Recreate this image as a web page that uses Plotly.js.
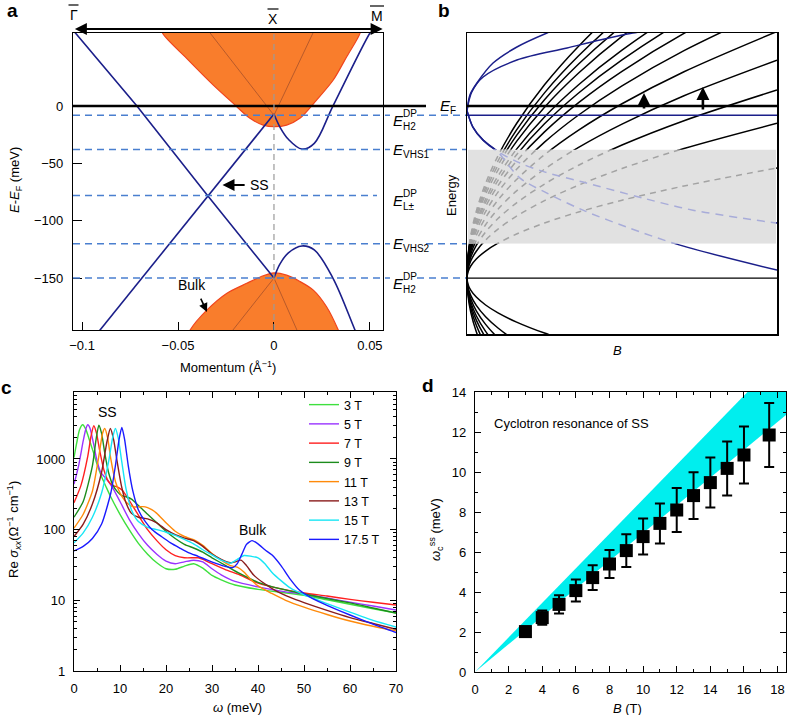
<!DOCTYPE html>
<html><head><meta charset="utf-8">
<script src="https://cdn.plot.ly/plotly-3.0.1.min.js"></script>
<style>html,body{margin:0;padding:0;background:#fff}#plot{width:787px;height:715px}</style>
</head><body><div id="plot"></div>
<script>
// ================= DATA =================
// ---- Panel a : band structure (k in 1/Å, E-EF in meV)
const ssFallK = [-0.1047, -0.0714, -0.0344, 0];
const ssFallE = [66.2, 0, -78.5, -150];
const ssHumpK = [0, 0.003, 0.0075, 0.0146, 0.021, 0.0307, 0.0422, 0.046];
const ssHumpE = [-150, -138, -128, -122, -125.5, -150, -195.3, -210];
const ssRiseK = [-0.092, -0.0344, 0];
const ssRiseE = [-198.2, -78.5, -7];
const ssDipK = [0, 0.003, 0.0075, 0.0146, 0.021, 0.0307, 0.05, 0.052];
const ssDipE = [-7, -18, -29, -37.5, -32.5, 0, 63.7, 68];
const cbK = [-0.0585, -0.058, -0.0455, -0.0316, -0.0212, -0.0125, -0.0056, 0, 0.0066, 0.0135, 0.0222, 0.0309, 0.0379, 0.0448, 0.0452];
const cbE = [70, 63.4, 41.6, 18.3, 2.3, -10.7, -16.6, -18, -16.6, -10.7, 5.2, 22.7, 43, 63.4, 70];
const vbK = [-0.0455, -0.0437, -0.035, -0.0247, -0.0142, -0.0056, 0, 0.0066, 0.0135, 0.0205, 0.0274, 0.0335, 0.035];
const vbE = [-202, -195.3, -178, -163.4, -154.6, -148, -145.5, -147.5, -153, -160.5, -175, -195.3, -202];
const cbInnerK = [-0.0362, 0, 0.0221];
const cbInnerE = [70, -8, 70];
const vbInnerK = [-0.0236, 0, 0.0132];
const vbInnerE = [-200, -150, -200];
const levelE = [-8, -38, -78, -120, -150];          // E_H2^DP, E_VHS1, E_L±^DP, E_VHS2, E_H2^DP
const levelMain = ['E', 'E', 'E', 'E', 'E'];
const levelSup = ['DP', '', 'DP', '', 'DP'];
const levelSub = ['H2', 'VHS1', 'L±', 'VHS2', 'H2'];
const symLabels = ['\u0393', 'X', 'M'];

// ---- Panel b : Landau-level schematic (B in arb. units 0..1, energy in meV)
const fanB = [0, 0.003, 0.012, 0.03, 0.06, 0.1, 0.16, 0.25, 0.36, 0.5, 0.7, 1.0];
const landauUp = [
  [-150,-144.7,-139.5,-133.4,-126.5,-119.6,-111.6,-102,-92.4,-82.1,-69.7,-54],
  [-150,-142.6,-135.2,-126.6,-116.9,-107.3,-96,-82.5,-69,-54.5,-37,-15],
  [-150,-141,-132,-121.6,-109.8,-98.1,-84.4,-68,-51.6,-34,-12.8,14],
  [-150,-139.6,-129.2,-117.1,-103.5,-89.9,-74,-55,-36,-15.7,9,40],
  [-150,-138.2,-126.5,-112.8,-97.3,-82,-64,-42.5,-21,2,29.9,65],
  [-150,-137,-124,-109,-92,-75.1,-55.2,-31.5,-7.8,17.6,48.3,87],
  [-150,-136,-122.1,-105.8,-87.5,-69.4,-48,-22.5,3,30.3,63.4,105],
  [-150,-135.3,-120.5,-103.4,-84.1,-64.9,-42.4,-15.5,11.4,40.2,75.1,119],
  [-150,-134.6,-119.2,-101.3,-81.2,-61.1,-37.6,-9.5,18.6,48.7,85.1,131],
  [-150,-133.7,-117.4,-98.4,-77,-55.8,-30.8,-1,28.8,60.7,99.3,148],
  [-150,-133,-115.9,-96.1,-73.8,-51.7,-25.6,5.5,36.6,69.9,110.2,161],
  [-150,-132.3,-114.6,-94.1,-70.9,-47.9,-20.8,11.5,43.8,78.4,120.3,173],
  [-150,-131.5,-113.1,-91.6,-67.5,-43.4,-15.2,18.5,52.2,88.3,132,187]
];
const landauDown = [
  [-150,-155.3,-160.5,-166.6,-173.5,-180.4,-188.4,-198,-207.6,-217.9,-230.3,-246],
  [-150,-157.6,-165.1,-173.9,-183.8,-193.6,-205.2,-219,-232.8,-247.6,-265.5,-288],
  [-150,-159,-168.1,-178.6,-190.4,-202.2,-216,-232.5,-249,-266.7,-288.1,-315],
  [-150,-160.4,-170.8,-182.9,-196.5,-210.1,-226,-245,-264,-284.3,-309,-340],
  [-150,-161.6,-173.2,-186.7,-201.9,-217,-234.8,-256,-277.2,-299.9,-327.4,-362],
  [-150,-163,-176.1,-191.2,-208.3,-225.3,-245.2,-269,-292.8,-318.3,-349.1,-388],
  [-150,-164.8,-179.6,-196.8,-216.1,-235.4,-258,-285,-312,-340.9,-375.9,-420]
];
const blueAB = [0, 0.01, 0.032, 0.084, 0.161, 0.258, 0.3];
const blueAE = [-4, 10, 20.1, 37.5, 51.5, 63.7, 68];
const blueBB = [0, 0.015, 0.052, 0.161, 0.323, 0.429, 0.535, 0.6];
const blueBE = [-4, 12, 25.3, 40.1, 50.6, 57.6, 63.7, 66];
const blueL1B = [0, 0.019, 0.052, 0.097, 0.171, 0.252, 0.374, 0.568, 0.729, 1];
const blueL1E = [-4, -18.3, -29.7, -39.3, -49.7, -57.6, -66.3, -80.3, -90.8, -102.1];
const blueL2B = [0, 0.019, 0.052, 0.097, 0.171, 0.258, 0.374, 0.516, 0.687, 1];
const blueL2E = [-4, -18.3, -29.7, -39.3, -62.8, -75.9, -90.8, -105.6, -121.3, -143.1];
const transB = [0.571, 0.761];
const transFrom = [-3.5, -4.4];
const transTo = [11.3, 16.6];

// ---- Panel c : Re sigma_xx vs omega
const fieldNames = ['3 T','5 T','7 T','9 T','11 T','13 T','15 T','17.5 T'];
const fieldColors = ['#3ee03e','#9a33ff','#ff1f1f','#1c8c1c','#ff8a0a','#8a1c1c','#17e6f5','#1a1aff'];
const w3 = [0,0.6,1.2,1.9,2.6,3.3,4.2,5,6,7,8,10,12,14,16,18,20,22,24,26,28,30,32,35,40,45,50,55,60,65,70];
const s3 = [1050,1700,2600,3050,2600,1900,1250,850,560,400,290,165,100,64,45,34,28,27.5,30.5,33,28.5,22.5,19.5,16.5,14.3,13,11.8,10.2,8.8,7.6,6.6];
const w5 = [0,1,2,2.6,3.0,3.5,4.2,5,5.8,6.6,7.5,8.5,10,12,14,16,18,20,22,24,26,28,30,32,35,40,45,50,55,60,65,70];
const s5 = [440,800,1800,2700,3050,2700,1700,950,650,560,480,380,250,140,88,60,45,36,33,35,37,35,28,23,18.5,15.5,13.5,12.2,10.8,9.4,8.3,7.3];
const w7 = [0,1.5,3,3.7,4.3,4.9,5.6,6.5,7.5,8.5,9.5,10.5,12,14,16,18,20,22,24,26,27,28,30,33,36,40,45,50,55,60,65,70];
const s7 = [240,420,1100,2100,2950,2300,1300,700,480,420,400,360,260,160,100,70,52,43,40,40,40,38,33,27,23,17.5,14.5,12.7,11.5,10.3,9.4,8.6];
const w9 = [0,2,4,4.8,5.4,6,6.7,7.5,8.5,9.5,10.5,11.5,12.5,14,16,18,20,22,24,26,28,30,33,36,40,45,50,55,60,65,70];
const s9 = [150,250,800,1900,3000,2300,1200,650,420,340,300,290,270,220,165,125,95,75,62,55,48,40,31,24,18,14.5,12.3,10.6,9.2,7.8,6.6];
const w11 = [0,2,4,5.5,6.2,6.7,7.3,8,9,10,11,12,13,14,15,16,17,18,20,22,24,26,28,30,32,34,35.5,37,38.5,40,43,46,50,55,60,65,70];
const s11 = [105,165,350,1200,2300,2700,2000,1000,480,330,260,225,210,210,212,205,190,170,125,95,80,72,60,46,37,31,29.5,25,19.5,16,12.5,10,8,6.3,5.1,4.3,3.7];
const w13 = [0,2,4,6,7.2,7.9,8.6,9.4,10.3,11.3,12.5,14,16,18,20,22,24,26,28,30,32,34,35,36.3,37.5,39,41,44,47,50,55,60,65,70];
const s13 = [80,120,230,650,1800,2700,1900,900,420,240,170,150,142,125,100,85,76,70,58,45,38,34,35,37,31,23,18,13.5,11,9.3,7.2,5.7,4.7,3.9];
const w15 = [0,2,4,6,7.5,8.4,9,9.6,10.4,11.3,12.5,14,16,18,20,22,24,26,28,30,32,34,35.5,37,38.5,40,41.5,43,45,47,50,55,60,65,70];
const s15 = [65,90,150,330,900,2000,2700,2000,900,380,190,130,108,100,92,83,73,63,52,44,37,33.5,38,43,42,40,33,25,19,15,12,9,6.8,5.2,4.2];
const w17 = [0,2,4,6,8,9,9.8,10.4,11,11.8,12.8,14,15.5,17,19,21,23,25,27,29,31,33,34.5,35.5,36.5,37.5,38.7,40,41.5,43,45,47,49,52,55,60,65,70];
const s17 = [50,58,75,120,330,800,1900,2800,1900,800,350,190,130,100,80,65,55,47,42,37,33,30,29,33,45,62,70,63,52,44,31,20,14,10.5,8.5,6.2,4.6,3.5];
const omegaSets = [w3,w5,w7,w9,w11,w13,w15,w17];
const sigmaSets = [s3,s5,s7,s9,s11,s13,s15,s17];

// ---- Panel d : cyclotron resonance
const fieldB = [3,4,5,6,7,8,9,10,11,12,13,14,15,16,17.5];
const omegaC = [2.02,2.72,3.38,4.07,4.72,5.4,6.07,6.77,7.43,8.1,8.82,9.47,10.18,10.85,11.85];
const omegaErr = [0.25,0.36,0.46,0.55,0.62,0.7,0.82,0.9,1.0,1.1,1.17,1.25,1.35,1.43,1.6];
const bandB = [0, 18.5];
const bandLow = [0, 12.85];
const bandHigh = [0, 15.98];

// ================= LAYOUT HELPERS =================
const W = 787, H = 715;
const fx = p => p / W;
const fy = p => 1 - p / H;
const FONT = 'Liberation Sans, Arial, Helvetica, sans-serif';
const NAVY = '#1b1f8a';
const LEVEL_BLUE = '#4a7fcf';
const E_TOP = 63.7, PX_TOP = 33, PX_PER_MEV = 1.1467;
const pyE = E => PX_TOP + (E_TOP - E) * PX_PER_MEV;

const traces = [];
// ---------- Panel a ----------
const bandStyle = {mode:'lines', fill:'toself', fillcolor:'#f97d2c', line:{color:'#f0441c', width:1.2, shape:'spline', smoothing:0.8}, xaxis:'x', yaxis:'y', showlegend:false, hoverinfo:'skip'};
traces.push(Object.assign({x:cbK, y:cbE}, bandStyle));
traces.push(Object.assign({x:vbK, y:vbE}, bandStyle));
[[cbInnerK, cbInnerE],[vbInnerK, vbInnerE]].forEach(([k,e]) => traces.push({x:k, y:e, mode:'lines', line:{color:'#b85a2a', width:1}, xaxis:'x', yaxis:'y', showlegend:false}));
traces.push({x:ssFallK, y:ssFallE, mode:'lines', line:{color:NAVY, width:1.6}, xaxis:'x', yaxis:'y', showlegend:false});
traces.push({x:ssRiseK, y:ssRiseE, mode:'lines', line:{color:NAVY, width:1.6}, xaxis:'x', yaxis:'y', showlegend:false});
traces.push({x:ssHumpK, y:ssHumpE, mode:'lines', line:{color:NAVY, width:1.6, shape:'spline'}, xaxis:'x', yaxis:'y', showlegend:false});
traces.push({x:ssDipK, y:ssDipE, mode:'lines', line:{color:NAVY, width:1.6, shape:'spline'}, xaxis:'x', yaxis:'y', showlegend:false});

// ---------- Panel b ----------
const bLine = (x, y, color, extra) => Object.assign({x, y, mode:'lines', line:Object.assign({color, width:1.5, shape:'spline', smoothing:0.9}, extra||{}), xaxis:'x2', yaxis:'y2', showlegend:false, hoverinfo:'skip'});
landauUp.forEach(e => traces.push(bLine(fanB, e, 'black')));
landauDown.forEach(e => traces.push(bLine(fanB, e, 'black')));
traces.push(bLine(blueAB, blueAE, NAVY));
traces.push(bLine(blueBB, blueBE, NAVY));
traces.push(bLine(blueL1B, blueL1E, NAVY));
traces.push(bLine(blueL2B, blueL2E, NAVY));
traces.push(bLine([fanB[0], fanB[fanB.length-1]], [levelE[0], levelE[0]], NAVY, {shape:'linear', width:1.4}));
traces.push(bLine([fanB[0], fanB[fanB.length-1]], [levelE[4], levelE[4]], 'black', {shape:'linear', width:1.2}));
const vhs1 = levelE[1], vhs2 = levelE[3];
traces.push({x:[fanB[0], fanB[fanB.length-1], fanB[fanB.length-1], fanB[0]], y:[vhs2, vhs2, vhs1, vhs1], mode:'lines', fill:'toself', fillcolor:'#e1e1e1', line:{width:0, color:'#e1e1e1'}, xaxis:'x5', yaxis:'y5', showlegend:false, hoverinfo:'skip'});
landauUp.forEach(e => traces.push({x:fanB, y:e, mode:'lines', line:{color:'#a3a3a3', width:1.5, dash:'6px,5px', shape:'spline', smoothing:0.9}, xaxis:'x5', yaxis:'y5', showlegend:false}));
[[blueL1B, blueL1E],[blueL2B, blueL2E]].forEach(([b,e]) => traces.push({x:b, y:e, mode:'lines', line:{color:'#a8acd9', width:1.5, dash:'8px,6px', shape:'spline', smoothing:0.9}, xaxis:'x5', yaxis:'y5', showlegend:false}));

// ---------- Panel c ----------
omegaSets.forEach((w, i) => traces.push({x:w, y:sigmaSets[i], name:fieldNames[i], mode:'lines', line:{color:fieldColors[i], width:1.4, shape:'spline', smoothing:0.6}, xaxis:'x3', yaxis:'y3', showlegend:true}));

// ---------- Panel d ----------
traces.push({x:bandB, y:bandLow, mode:'lines', line:{width:0, color:'#00eeee'}, xaxis:'x4', yaxis:'y4', showlegend:false});
traces.push({x:bandB, y:bandHigh, mode:'lines', fill:'tonexty', fillcolor:'#00eeee', line:{width:0, color:'#00eeee'}, xaxis:'x4', yaxis:'y4', showlegend:false});
traces.push({x:fieldB, y:omegaC, mode:'markers', marker:{symbol:'square', size:13, color:'black'}, error_y:{type:'data', array:omegaErr, color:'black', thickness:2, width:5}, xaxis:'x4', yaxis:'y4', showlegend:false});

// ================= AXES =================
const tickFont = {family:FONT, size:13, color:'black'};
const boxAxis = {showline:true, linecolor:'black', linewidth:1.2, showgrid:false, zeroline:false, tickfont:tickFont, ticks:'inside', tickcolor:'black', fixedrange:true};
const minorLog = [];
[1,10,100,1000].forEach(d => {for (let m=2;m<=9;m++) minorLog.push(m*d);});

const layout = {
  width:W, height:H, autosize:false,
  margin:{l:0, r:0, t:0, b:0},
  paper_bgcolor:'white', plot_bgcolor:'rgba(0,0,0,0)',
  font:{family:FONT, size:13, color:'black'},
  showlegend:true,
  legend:{x:fx(304), y:fy(390), xanchor:'left', yanchor:'top', traceorder:'normal', bgcolor:'rgba(0,0,0,0)', font:{family:FONT, size:12.5}, tracegroupgap:0, itemwidth:30},
  xaxis: Object.assign({}, boxAxis, {domain:[fx(73), fx(383)], range:[-0.1047, 0.0568], anchor:'y', mirror:true, ticklen:8, tickvals:[-0.1,-0.05,0,0.05], ticktext:['\u22120.1','\u22120.05','0','0.05'], ticklabelstandoff:3}),
  yaxis: Object.assign({}, boxAxis, {domain:[fy(330), fy(33)], range:[-195.3, 63.7], anchor:'x', mirror:true, ticklen:9, tickvals:[-150,-100,-50,0], ticktext:['\u2212150','\u2212100','\u221250','0'], ticklabelstandoff:6}),
  xaxis2: Object.assign({}, boxAxis, {domain:[fx(467), fx(777)], range:[0,1], anchor:'y2', mirror:true, ticks:'', showticklabels:false, linewidth:1.5}),
  yaxis2: Object.assign({}, boxAxis, {domain:[fy(334), fy(33)], range:[-198.8, 63.7], anchor:'x2', mirror:true, ticks:'', showticklabels:false, linewidth:1.5}),
  xaxis3: Object.assign({}, boxAxis, {domain:[fx(74), fx(396)], range:[0,70], anchor:'y3', mirror:'ticks', ticklen:6, dtick:10, tick0:0, minor:{ticks:'inside', ticklen:3, dtick:5, tickcolor:'black'}, ticklabelstandoff:5}),
  yaxis3: Object.assign({}, boxAxis, {type:'log', domain:[fy(671), fy(392)], range:[0, 3.948], anchor:'x3', mirror:'ticks', ticklen:6, tickvals:[1,10,100,1000], ticktext:['1','10','100','1000'], minor:{ticks:'inside', ticklen:3, tickvals:minorLog, tickcolor:'black'}, ticklabelstandoff:5}),
  xaxis4: Object.assign({}, boxAxis, {domain:[fx(475), fx(786)], range:[0,18.5], anchor:'y4', mirror:'ticks', ticklen:6, dtick:2, tick0:0, minor:{ticks:'inside', ticklen:3, dtick:1, tickcolor:'black'}, ticklabelstandoff:5}),
  yaxis4: Object.assign({}, boxAxis, {domain:[fy(672), fy(392)], range:[0,14], anchor:'x4', mirror:'ticks', ticklen:6, dtick:2, tick0:0, minor:{ticks:'inside', ticklen:3, dtick:1, tickcolor:'black'}, ticklabelstandoff:5}),
  xaxis5: {domain:[fx(468), fx(776)], range:[1/310, 309/310], anchor:'y5', visible:false, fixedrange:true},
  yaxis5: {domain:[fy(pyE(vhs2)), fy(pyE(vhs1))], range:[vhs2, vhs1], anchor:'x5', visible:false, fixedrange:true},
  shapes:[], annotations:[]
};

// ---- shapes
layout.shapes.push({type:'line', xref:'paper', yref:'y', x0:fx(73), x1:fx(426), y0:0, y1:0, line:{color:'black', width:2.6}});
layout.shapes.push({type:'line', xref:'x2 domain', yref:'y2', x0:0, x1:1, y0:0, y1:0, line:{color:'black', width:2.6}});
layout.shapes.push({type:'line', xref:'x', yref:'y domain', x0:0, x1:0, y0:0, y1:1, line:{color:'#9a9a9a', width:1.2, dash:'6px,4px'}});
const leftEnd = [390, 390, 377, 390, 390];
const rightStart = [417, 426, null, 426, 417];
levelE.forEach((e, i) => {
  layout.shapes.push({type:'line', xref:'paper', yref:'y', x0:fx(73), x1:fx(leftEnd[i]), y0:e, y1:e, line:{color:LEVEL_BLUE, width:1.5, dash:'7px,5px'}});
  if (rightStart[i] !== null) layout.shapes.push({type:'line', xref:'paper', yref:'y', x0:fx(rightStart[i]), x1:fx(466), y0:e, y1:e, line:{color:LEVEL_BLUE, width:1.5, dash:'7px,5px'}});
});
const symX = [73.5, 273, 377], symY = [15, 19, 16], barHalf = [5, 5.5, 7];
symX.forEach((x, i) => layout.shapes.push({type:'line', xref:'paper', yref:'paper', x0:fx(x - barHalf[i]), x1:fx(x + barHalf[i]), y0:fy(symY[i] - 10), y1:fy(symY[i] - 10), line:{color:'black', width:1.2}}));

// ---- annotations
const ann = (text, px, py, opts) => Object.assign({text, xref:'paper', yref:'paper', x:fx(px), y:fy(py), xanchor:'center', yanchor:'middle', showarrow:false, font:{family:FONT, size:13, color:'black'}}, opts||{});
const lvl = (text, px, e, yshift, size) => ({text, xref:'paper', yref:'y', x:fx(px), y:e, yshift, xanchor:'left', yanchor:'middle', showarrow:false, font:{family:FONT, size, color:'black'}});
const A = layout.annotations;
[['a',12,11],['b',444,11],['c',6,387],['d',428,386]].forEach(([t,x,y]) => A.push(ann('<b>'+t+'</b>', x, y, {font:{family:FONT, size:19, color:'black'}})));
levelE.forEach((e, i) => {
  const sh = levelSup[i] ? -5 : 0;
  A.push(lvl('<i>'+levelMain[i]+'</i>', 391, e, sh, 15));
  if (levelSup[i]) {
    A.push(lvl(levelSup[i], 401, e, 2, 10));
    A.push(lvl(levelSub[i], 401, e, -11, 10));
  } else {
    A.push(lvl(levelSub[i], 401, e, -5, 10));
  }
});
A.push(lvl('<i>E</i>', 438, 0, 1, 15));
A.push(lvl('F', 448, 0, -4, 10));
A.push(ann('<i>E</i>-<i>E</i><sub>F</sub> (meV)', 15, 180, {textangle:-90}));
A.push(ann('Momentum (\u00c5<sup>\u22121</sup>)', 228, 367));
symLabels.forEach((t, i) => A.push(ann(t, symX[i], symY[i], {font:{family:FONT, size:14}})));
A.push({text:'', xref:'x', yref:'paper', x:0.0566, y:fy(29), axref:'x', ax:-0.1045, ayref:'pixel', ay:0, showarrow:true, arrowhead:2, startarrowhead:2, arrowside:'end+start', arrowsize:1.2, startarrowsize:1.2, arrowwidth:2, arrowcolor:'black'});
A.push({text:'SS', xref:'x', yref:'y', x:-0.0073, y:-68.9, xanchor:'center', yanchor:'middle', showarrow:false, font:{family:FONT, size:14}});
A.push({text:'', xref:'x', yref:'y', x:-0.0268, y:-68.9, axref:'x', ax:-0.0145, ayref:'y', ay:-68.9, showarrow:true, arrowhead:2, arrowsize:1.2, arrowwidth:2, arrowcolor:'black'});
A.push({text:'Bulk', xref:'x', yref:'y', x:-0.0427, y:-156, xanchor:'center', yanchor:'middle', showarrow:false, font:{family:FONT, size:14}});
A.push({text:'', xref:'x', yref:'y', x:-0.0349, y:-179.6, axref:'x', ax:-0.0385, ayref:'y', ay:-166.6, showarrow:true, arrowhead:2, arrowsize:1.1, arrowwidth:1.6, arrowcolor:'black'});
A.push(ann('<i>B</i>', 617, 350));
A.push(ann('Energy', 452, 195, {textangle:-90}));
transB.forEach((b, i) => A.push({text:'', xref:'x2', yref:'y2', x:b, y:transTo[i], axref:'x2', ax:b, ayref:'y2', ay:transFrom[i], showarrow:true, arrowhead:2, arrowsize:1, arrowwidth:2.6, arrowcolor:'black'}));
A.push(ann('Re <i>\u03c3</i><sub><i>xx</i></sub>(\u03a9<sup>\u22121</sup> cm<sup>\u22121</sup>)', 14, 530, {textangle:-90}));
A.push(ann('<i>\u03c9</i> (meV)', 237, 707));
A.push(ann('SS', 107, 412, {font:{family:FONT, size:14}}));
A.push(ann('Bulk', 253, 530, {font:{family:FONT, size:14}}));
A.push(ann('<i>\u03c9</i><sub>c</sub><sup>ss</sup> (meV)', 436, 530, {textangle:-90}));
A.push(ann('<i>B</i> (T)', 627, 708));
A.push(ann('Cyclotron resonance of SS', 492, 423, {xanchor:'left', font:{family:FONT, size:13}}));

Plotly.newPlot('plot', traces, layout, {staticPlot:true, displayModeBar:false});
</script>
</body></html>
